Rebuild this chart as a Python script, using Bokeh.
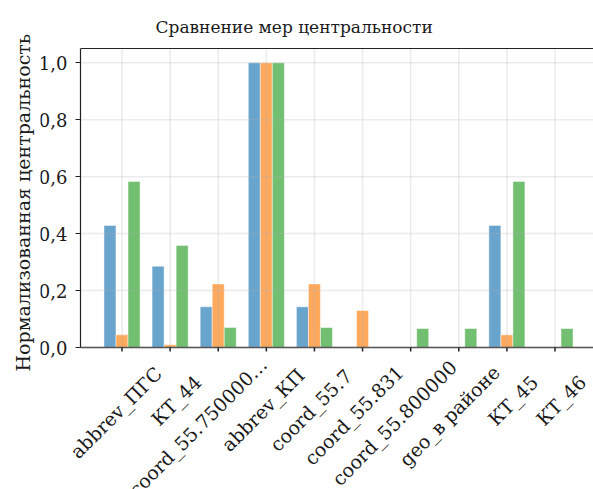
import math

from bokeh.core.properties import value
from bokeh.embed import file_html
from bokeh.models import FixedTicker, LinearAxis, Range1d, Title
from bokeh.plotting import figure
from bokeh.resources import INLINE

# Nodes compared across the three centrality measures
nodes = [
    "abbrev_ПГС", "КТ_44", "coord_55.750000…", "abbrev_КП", "coord_55.7",
    "coord_55.831", "coord_55.800000", "geo_в районе", "КТ_45", "КТ_46",
]

# Normalised centrality values per measure
series_blue = [0.4286, 0.2857, 0.1429, 1.0, 0.1429, 0.0, 0.0, 0.0, 0.4286, 0.0]
series_orange = [0.0445, 0.0095, 0.2234, 1.0, 0.2234, 0.1298, 0.0, 0.0, 0.0445, 0.0]
series_green = [0.5833, 0.3583, 0.0700, 1.0, 0.0700, 0.0, 0.0667, 0.0667, 0.5833, 0.0667]

y_ticks = [0.0, 0.2, 0.4, 0.6, 0.8, 1.0]
y_tick_labels = ["0,0", "0,2", "0,4", "0,6", "0,8", "1,0"]

title_text = "Сравнение мер центральности"
y_label = "Нормализованная центральность"

FONT = "DejaVu Serif"
XLABEL_PX = 19
bar_w = 0.25
idx = list(range(len(nodes)))

# Canvas geometry. The value area spans x in [X_LO, X_HI] and y in [0, Y_MAX];
# the frame reaches further left and down so that the y axis (drawn at X_LO)
# and the rotated category names sit inside it.
W, H = 593, 489
TOP = 48           # frame top (title band above)
FRAME_LEFT = 40    # frame left (y label band to the left)
AXIS_X = 80        # pixel column of the value area's left edge
VAL_PX = 299       # pixels from 0 to Y_MAX
Y_MAX = 1.05
X_LO, X_HI = -0.8625, 9.80
px_per_unit = VAL_PX / Y_MAX
px_per_cat = (W - AXIS_X) / (X_HI - X_LO)
x_start = X_LO - (AXIS_X - FRAME_LEFT) / px_per_cat
y_min = -((H - TOP) - VAL_PX) / px_per_unit

# Rough advance widths (em) of DejaVu Serif, used to place the rotated
# category names under their ticks.
_EM = {
    ".": 0.318, ",": 0.318, " ": 0.318, "_": 0.5, "…": 1.0,
    "r": 0.478, "v": 0.565, "c": 0.56, "e": 0.592, "a": 0.596, "o": 0.602,
    "b": 0.64, "d": 0.64, "g": 0.64,
    "К": 0.75, "Т": 0.68, "П": 0.8, "Г": 0.66, "С": 0.73,
    "в": 0.6, "р": 0.64, "а": 0.596, "й": 0.66, "н": 0.67, "е": 0.592,
}


def text_width(s, size):
    return sum(_EM.get(ch, 0.636 if ch.isdigit() else 0.62) for ch in s) * size


p = figure(
    width=W, height=H,
    output_backend="svg", toolbar_location=None,
    x_range=Range1d(x_start, X_HI), y_range=Range1d(y_min, Y_MAX),
    x_axis_location=None,
    min_border_left=FRAME_LEFT, min_border_right=0, min_border_top=TOP,
    min_border_bottom=0,
)
p.outline_line_color = None
p.background_fill_color = "white"
p.border_fill_color = "white"
p.xgrid.grid_line_color = None
p.ygrid.grid_line_color = None

# Title
p.title.text = title_text
p.title.text_font = FONT
p.title.text_font_size = "17px"
p.title.text_font_style = "normal"
p.title.text_color = "#1a1a1a"
p.title.align = "left"
p.title.offset = 115
p.title.standoff = 24

# Bars, three per node
groups = [
    (series_blue, -bar_w, "#1f77b4"),
    (series_orange, 0.0, "#ff7f0e"),
    (series_green, bar_w, "#2ca02c"),
]
for vals, shift, color in groups:
    p.vbar(
        x=[i + shift for i in idx], top=vals, width=bar_w, bottom=0,
        fill_color=color, fill_alpha=0.67,
        line_color="white", line_alpha=0.6, line_width=0.8,
    )

# Grid drawn over the bars, limited to the value area
GRID = dict(line_color="#b0b0b0", line_alpha=0.25, line_width=1.5)
p.segment(x0=idx, y0=[0] * len(idx), x1=idx, y1=[Y_MAX] * len(idx), **GRID)
p.segment(x0=[X_LO] * len(y_ticks), y0=y_ticks,
          x1=[X_HI] * len(y_ticks), y1=y_ticks, **GRID)

# Bottom spine and category ticks
tick_len = 4 / px_per_unit
p.segment(x0=[X_LO], y0=[0], x1=[X_HI], y1=[0], line_color="#555555", line_width=1.5)
p.segment(x0=idx, y0=[0] * len(idx), x1=idx, y1=[-tick_len] * len(idx),
          line_color="#222222", line_width=1.5)

# Rotated category names hanging below each tick
ang = math.pi / 4
c = math.cos(ang)
label_x, label_y = [], []
for i, name in zip(idx, nodes):
    shift = 0.3 * text_width(name, XLABEL_PX) * c
    label_x.append(i + (19 - shift) / px_per_cat)
    label_y.append(-(40 + shift) / px_per_unit)
p.text(
    x=label_x, y=label_y, text=nodes, angle=ang,
    text_align="center", text_baseline="middle",
    text_font=value(FONT), text_font_size=f"{XLABEL_PX}px", text_color="#1a1a1a",
)

# Y axis pinned to the value area's left edge
ya = p.yaxis[0]
ya.fixed_location = X_LO
ya.bounds = (0, Y_MAX)
ya.ticker = FixedTicker(ticks=y_ticks)
ya.major_label_overrides = {t: s for t, s in zip(y_ticks, y_tick_labels)}
ya.major_label_text_font = FONT
ya.major_label_text_font_size = "18px"
ya.major_label_text_color = "#1a1a1a"
ya.major_label_standoff = 8
ya.axis_line_color = "#222222"
ya.axis_line_width = 1.2
ya.major_tick_in = 0
ya.major_tick_out = 5
ya.major_tick_line_color = "#222222"
ya.major_tick_line_width = 1.2
ya.minor_tick_line_color = None

# Y axis label, set beside the value area
p.add_layout(Title(
    text=y_label, align="left", offset=118, standoff=14,
    text_font=FONT, text_font_size="19px", text_font_style="normal",
    text_color="#1a1a1a",
), "left")

# Top spine over the value area only
top = LinearAxis(
    ticker=FixedTicker(ticks=[]), bounds=(X_LO, X_HI),
    axis_line_color="#222222", axis_line_width=1.2,
    major_tick_in=0, major_tick_out=0, minor_tick_in=0, minor_tick_out=0,
    major_label_standoff=0,
)
p.add_layout(top, "above")

open("out.html", "w").write(file_html(p, INLINE))
